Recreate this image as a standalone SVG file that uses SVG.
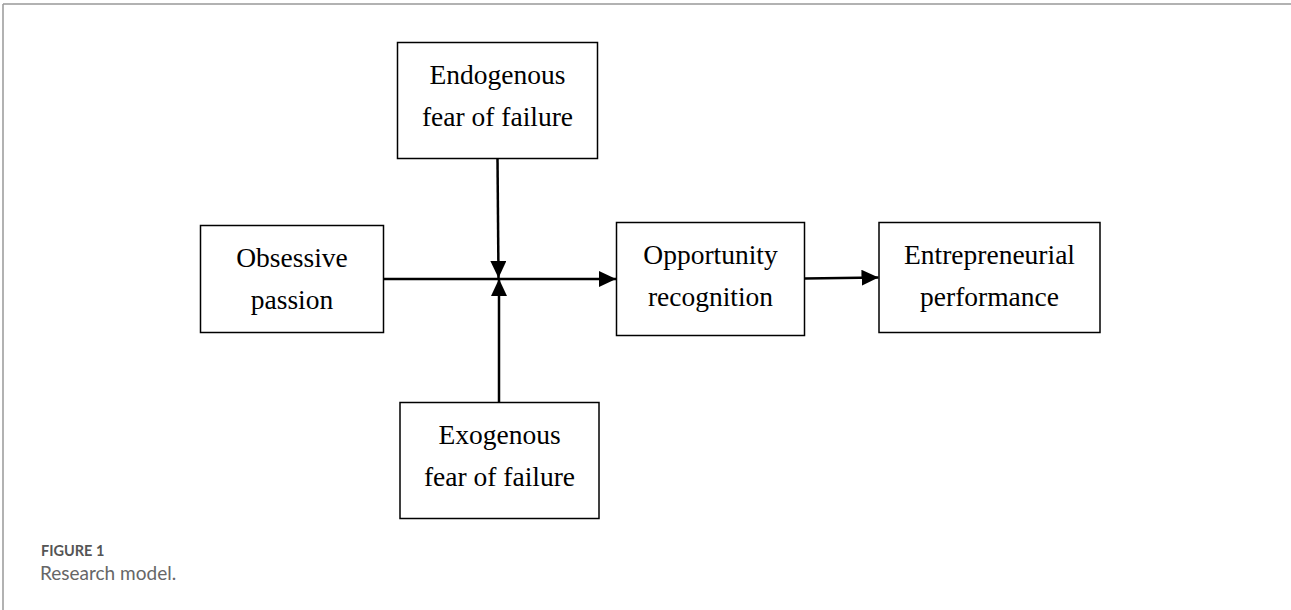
<svg xmlns="http://www.w3.org/2000/svg" width="1291" height="610" viewBox="0 0 1291 610">
<style>
.box{fill:#fff;stroke:#000;stroke-width:1.5}
.t{font-family:"Liberation Serif","Times New Roman",serif;font-size:27.5px;fill:#000;text-anchor:middle}
.c{stroke:#000;stroke-width:2.5;fill:none}
.cap1{font-family:Lato,"Open Sans",sans-serif;font-size:14.5px;font-weight:bold;fill:#555}
.cap2{font-family:Lato,"Open Sans",sans-serif;font-size:19px;fill:#666}
</style>
<defs>
<marker id="ah" markerWidth="17" markerHeight="16" viewBox="0 0 17 16" refX="17" refY="8" orient="auto" markerUnits="userSpaceOnUse">
<path d="M0,0 L17,8 L0,16 Z" fill="#000"/>
</marker>
</defs>
<rect x="0" y="0" width="1291" height="610" fill="#fff"/>
<line x1="3" y1="4" x2="1291" y2="4" stroke="#999" stroke-width="1.5"/>
<line x1="3" y1="4" x2="3" y2="610" stroke="#999" stroke-width="1.5"/>
<g id="endogenous">
<rect class="box" x="397.5" y="42.5" width="200" height="116"/>
<text class="t" x="497.5" y="84">Endogenous</text>
<text class="t" x="497.5" y="126">fear of failure</text>
</g>
<g id="obsessive">
<rect class="box" x="200.5" y="225.5" width="183" height="107"/>
<text class="t" x="292" y="266.5">Obsessive</text>
<text class="t" x="292" y="308.5">passion</text>
</g>
<g id="opportunity">
<rect class="box" x="616.5" y="222.5" width="188" height="113"/>
<text class="t" x="710.5" y="264">Opportunity</text>
<text class="t" x="710.5" y="306">recognition</text>
</g>
<g id="performance">
<rect class="box" x="879" y="222.5" width="221" height="110"/>
<text class="t" x="989.5" y="264">Entrepreneurial</text>
<text class="t" x="989.5" y="306">performance</text>
</g>
<g id="exogenous">
<rect class="box" x="400" y="402.5" width="199" height="116"/>
<text class="t" x="499.5" y="444">Exogenous</text>
<text class="t" x="499.5" y="486">fear of failure</text>
</g>
<g id="connectors">
<line class="c" x1="383.5" y1="279" x2="616" y2="279" marker-end="url(#ah)"/>
<line class="c" x1="497.5" y1="158.5" x2="498.5" y2="278" marker-end="url(#ah)"/>
<line class="c" x1="499" y1="402.5" x2="499" y2="279" marker-end="url(#ah)"/>
<line class="c" x1="804.5" y1="278.5" x2="878.5" y2="277.5" marker-end="url(#ah)"/>
</g>
<g id="caption">
<text class="cap1" x="41" y="556">FIGURE 1</text>
<text class="cap2" x="40" y="580">Research model.</text>
</g>
</svg>
